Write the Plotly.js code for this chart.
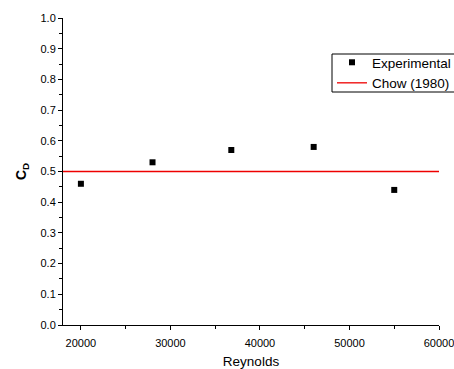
<!DOCTYPE html>
<html><head><meta charset="utf-8">
<script src="https://cdn.plot.ly/plotly-3.0.1.min.js"></script>
<style>html,body{margin:0;padding:0;background:#fff}#c{width:454px;height:369px}</style>
</head><body><div id="c"></div>
<script>
const reynolds = [20000, 28000, 36800, 46000, 55000];
const cdExp = [0.46, 0.53, 0.57, 0.58, 0.44];
const chowX = [18000, 60000];
const chowY = [0.5, 0.5];

const traces = [
  {x: reynolds, y: cdExp, mode: 'markers', type: 'scatter', name: 'Experimental',
   marker: {symbol: 'square', size: 6, color: '#000'}, cliponaxis: false},
  {x: chowX, y: chowY, mode: 'lines', type: 'scatter', name: 'Chow (1980)',
   line: {color: '#ee0000', width: 1.3}}
];
const fam = 'Liberation Sans, Arial, sans-serif';
const axFont = {family: fam, size: 11, color: '#000'};
const L = 63, T = 18, PW = 376, PH = 307;
const px = v => (v - L) / PW;
const py = v => 1 - (v - T) / PH;
const layout = {
  width: 454, height: 369,
  margin: {l: 63, r: 15, t: 18, b: 44, autoexpand: false},
  paper_bgcolor: '#fff', plot_bgcolor: '#fff',
  showlegend: true,
  legend: {x: px(332), xanchor: 'left', y: py(47), yanchor: 'top',
    borderwidth: 0, bgcolor: 'rgba(0,0,0,0)',
    font: {family: fam, size: 13.5, color: '#000'},
    tracegroupgap: 0, itemwidth: 30},
  shapes: [{type: 'rect', xref: 'paper', yref: 'paper', layer: 'below',
    x0: px(332), x1: px(470), y0: py(54), y1: py(92),
    line: {color: '#000', width: 1}, fillcolor: '#fff'}],
  xaxis: {range: [18000, 60000], showgrid: false, zeroline: false,
    showline: true, linecolor: '#000', linewidth: 1,
    ticks: 'outside', ticklen: 4, tickcolor: '#000', tickwidth: 1,
    tickvals: [20000, 30000, 40000, 50000, 60000],
    ticktext: ['20000', '30000', '40000', '50000', '60000'],
    ticklabeloverflow: 'allow', ticklabelstandoff: 4,
    minor: {tickvals: [25000, 35000, 45000, 55000], ticks: 'outside', ticklen: 3, tickcolor: '#000'},
    tickfont: axFont,
    title: {text: 'Reynolds', font: {family: fam, size: 13.5, color: '#000'}, standoff: 9}},
  yaxis: {range: [0, 1.0], showgrid: false, zeroline: false,
    showline: true, linecolor: '#000', linewidth: 1,
    ticks: 'outside', ticklen: 4, tickcolor: '#000', tickwidth: 1,
    dtick: 0.1, tick0: 0, tickformat: '.1f',
    minor: {dtick: 0.05, ticks: 'outside', ticklen: 3, tickcolor: '#000'},
    tickfont: axFont,
    title: {text: '<b>C<sub>D</sub></b>', font: {family: fam, size: 14, color: '#000'}, standoff: 10}}
};
Plotly.newPlot('c', traces, layout, {displayModeBar: false, staticPlot: true});
</script></body></html>
